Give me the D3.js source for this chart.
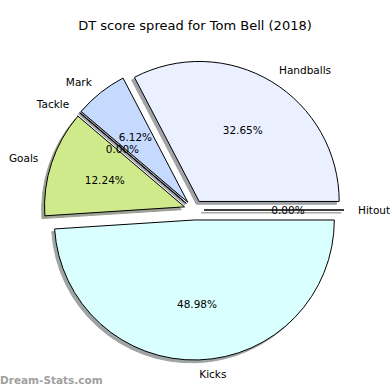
<!DOCTYPE html>
<html>
  <head>
    <script src="https://d3js.org/d3.v7.min.js"></script>
  </head>
  <style>
    body { margin: 0; background: #fff; }
    text { font-family: "DejaVu Sans", sans-serif; }
  </style>
  <body>
    <svg></svg>
    <script>
      // slices in matplotlib order (counter-clockwise from 3 o'clock)
      const labels = ["Hitout", "Handballs", "Mark", "Tackle", "Goals", "Kicks"];
      const values = [0, 16, 3, 0, 6, 24];
      const colors = ["#ffe0e0", "#eaf0ff", "#c6daff", "#f0d0a0", "#cfea8b", "#d9ffff"];

      const width = 390, height = 390;
      const cx = 194, cy = 210, r = 140;
      const explode = 10; // px offset of every slice

      const svg = d3.select("svg").attr("width", width).attr("height", height);

      svg.append("text")
        .attr("x", 195).attr("y", 25)
        .attr("text-anchor", "middle")
        .attr("dominant-baseline", "central")
        .style("font-size", "13px")
        .text("DT score spread for Tom Bell (2018)");

      const total = d3.sum(values);
      const pie = d3.pie().sort(null)
        .startAngle(Math.PI / 2)
        .endAngle(Math.PI / 2 - 2 * Math.PI);
      const arcs = pie(values).map((a, i) => {
        const m = (a.startAngle + a.endAngle) / 2;
        return {
          ...a,
          i: i,
          mid: m,
          ox: cx + explode * Math.sin(m),
          oy: cy - explode * Math.cos(m)
        };
      });

      const arc = d3.arc().innerRadius(0).outerRadius(r);
      const shade = c => { c = d3.rgb(c); return d3.rgb(c.r * 0.3, c.g * 0.3, c.b * 0.3); };

      // shadows (below all wedges)
      svg.append("g").selectAll("path")
        .data(arcs)
        .join("path")
        .attr("transform", d => `translate(${d.ox - 2.8},${d.oy + 2.8})`)
        .attr("d", arc)
        .attr("fill", d => shade(colors[d.i]))
        .attr("stroke", d => shade(colors[d.i]))
        .attr("stroke-width", 1)
        .attr("opacity", 0.5);

      svg.append("g").selectAll("path")
        .data(arcs)
        .join("path")
        .attr("transform", d => `translate(${d.ox},${d.oy})`)
        .attr("d", arc)
        .attr("fill", d => colors[d.i])
        .attr("stroke", "black")
        .attr("stroke-width", 1);

      // category labels
      svg.append("g").selectAll("text")
        .data(arcs)
        .join("text")
        .attr("x", d => d.ox + 1.1 * r * Math.sin(d.mid))
        .attr("y", d => d.oy - 1.1 * r * Math.cos(d.mid))
        .attr("text-anchor", d => (d.ox + 1.1 * r * Math.sin(d.mid)) > cx ? "start" : "end")
        .attr("dominant-baseline", "central")
        .style("font-size", "10.5px")
        .text(d => labels[d.i]);

      // percentages
      svg.append("g").selectAll("text")
        .data(arcs)
        .join("text")
        .attr("x", d => d.ox + 0.6 * r * Math.sin(d.mid))
        .attr("y", d => d.oy - 0.6 * r * Math.cos(d.mid))
        .attr("text-anchor", "middle")
        .attr("dominant-baseline", "central")
        .style("font-size", "10.5px")
        .text(d => (100 * d.data / total).toFixed(2) + "%");

      svg.append("text")
        .attr("x", 0).attr("y", 380)
        .attr("dominant-baseline", "central")
        .style("font-size", "10.5px")
        .style("font-weight", "bold")
        .attr("fill", "#a0a0a0")
        .text("Dream-Stats.com");
    </script>
  </body>
</html>
